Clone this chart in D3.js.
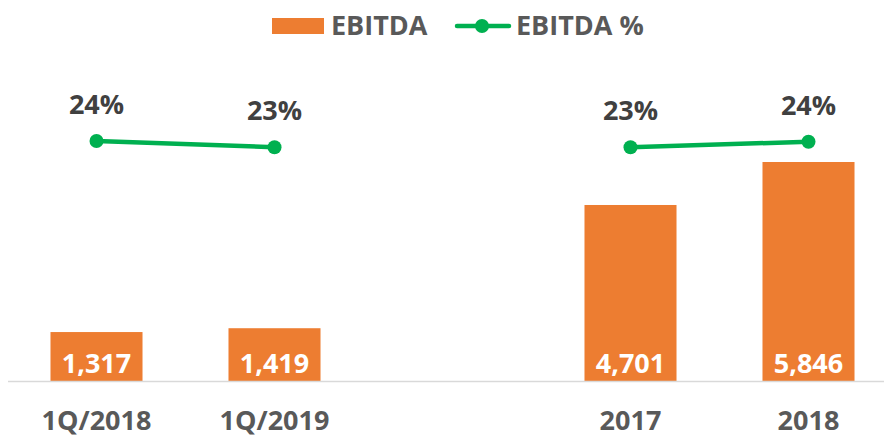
<!DOCTYPE html>
<meta charset="utf-8">
<style>
  body { margin: 0; background: #fff; }
  text { font-family: "Open Sans", "Liberation Sans", sans-serif; font-weight: 700; }
</style>
<body>
<script src="https://cdn.jsdelivr.net/npm/d3@7"></script>
<script>

// data ("" is the empty slot between quarters and years)
var categories = ["1Q/2018", "1Q/2019", "", "2017", "2018"];
var ebitda = [1317, 1419, null, 4701, 5846];
var margin = [0.242, 0.233, null, 0.233, 0.241];
var seriesNames = ["EBITDA", "EBITDA %"];

var width = 884,
    height = 437,
    baseY = 381.5;

var orange = "#ED7D31",
    green = "#00B050";

var svg = d3.select("body").append("svg")
    .attr("width", width)
    .attr("height", height);

var x = d3.scaleBand()
    .domain(categories)
    .range([7.5, 897.5])
    .paddingInner(0.483)
    .paddingOuter(0.2415);

var y = d3.scaleLinear()
    .domain([0, 5846])
    .range([baseY, 162]);

// secondary axis (hidden)
var y2 = d3.scaleLinear()
    .domain([0, 0.3])
    .range([308, 101]);

var rows = categories.map(function(c, i) {
  return {cat: c, value: ebitda[i], pct: margin[i]};
});
var bars = rows.filter(function(d) { return d.value != null; });

// BARS
svg.selectAll("rect.bar")
    .data(bars)
    .enter().append("rect")
    .attr("class", "bar")
    .attr("x", function(d) { return x(d.cat); })
    .attr("y", function(d) { return y(d.value); })
    .attr("width", x.bandwidth())
    .attr("height", function(d) { return baseY - y(d.value); })
    .attr("fill", orange);

// bar value labels
svg.selectAll("text.val")
    .data(bars)
    .enter().append("text")
    .attr("class", "val")
    .attr("x", function(d) { return x(d.cat) + x.bandwidth() / 2; })
    .attr("y", 373)
    .attr("text-anchor", "middle")
    .attr("font-size", 27)
    .attr("fill", "#fff")
    .text(function(d) { return d3.format(",")(d.value); });

// axis line
svg.append("line")
    .attr("x1", 8).attr("x2", width)
    .attr("y1", baseY).attr("y2", baseY)
    .attr("stroke", "#D9D9D9")
    .attr("stroke-width", 1.5);

// category labels
svg.selectAll("text.cat")
    .data(bars)
    .enter().append("text")
    .attr("class", "cat")
    .attr("x", function(d) { return x(d.cat) + x.bandwidth() / 2; })
    .attr("y", 430)
    .attr("text-anchor", "middle")
    .attr("font-size", 27)
    .attr("fill", "#595959")
    .text(function(d) { return d.cat; });

// LINE
var line = d3.line()
    .defined(function(d) { return d.pct != null; })
    .x(function(d) { return x(d.cat) + x.bandwidth() / 2; })
    .y(function(d) { return y2(d.pct); });

svg.append("path")
    .datum(rows)
    .attr("d", line)
    .attr("fill", "none")
    .attr("stroke", green)
    .attr("stroke-width", 4.5)
    .attr("stroke-linecap", "round");

svg.selectAll("circle.pt")
    .data(bars)
    .enter().append("circle")
    .attr("class", "pt")
    .attr("cx", function(d) { return x(d.cat) + x.bandwidth() / 2; })
    .attr("cy", function(d) { return y2(d.pct); })
    .attr("r", 7)
    .attr("fill", green);

svg.selectAll("text.pct")
    .data(bars)
    .enter().append("text")
    .attr("class", "pct")
    .attr("x", function(d) { return x(d.cat) + x.bandwidth() / 2; })
    .attr("y", function(d) { return y2(d.pct) - 27; })
    .attr("text-anchor", "middle")
    .attr("font-size", 27)
    .attr("fill", "#404040")
    .text(function(d) { return d3.format(".0%")(d.pct); });

// LEGEND
var legend = svg.append("g");

legend.append("rect")
    .attr("x", 272).attr("y", 18)
    .attr("width", 52).attr("height", 16)
    .attr("fill", orange);

legend.append("text")
    .attr("x", 331).attr("y", 35)
    .attr("font-size", 27)
    .attr("fill", "#595959")
    .text(seriesNames[0]);

legend.append("line")
    .attr("x1", 457).attr("x2", 509)
    .attr("y1", 26).attr("y2", 26)
    .attr("stroke", green)
    .attr("stroke-width", 4.5)
    .attr("stroke-linecap", "round");

legend.append("circle")
    .attr("cx", 482).attr("cy", 26)
    .attr("r", 7)
    .attr("fill", green);

legend.append("text")
    .attr("x", 516).attr("y", 35)
    .attr("font-size", 27)
    .attr("fill", "#595959")
    .text(seriesNames[1]);

</script>
